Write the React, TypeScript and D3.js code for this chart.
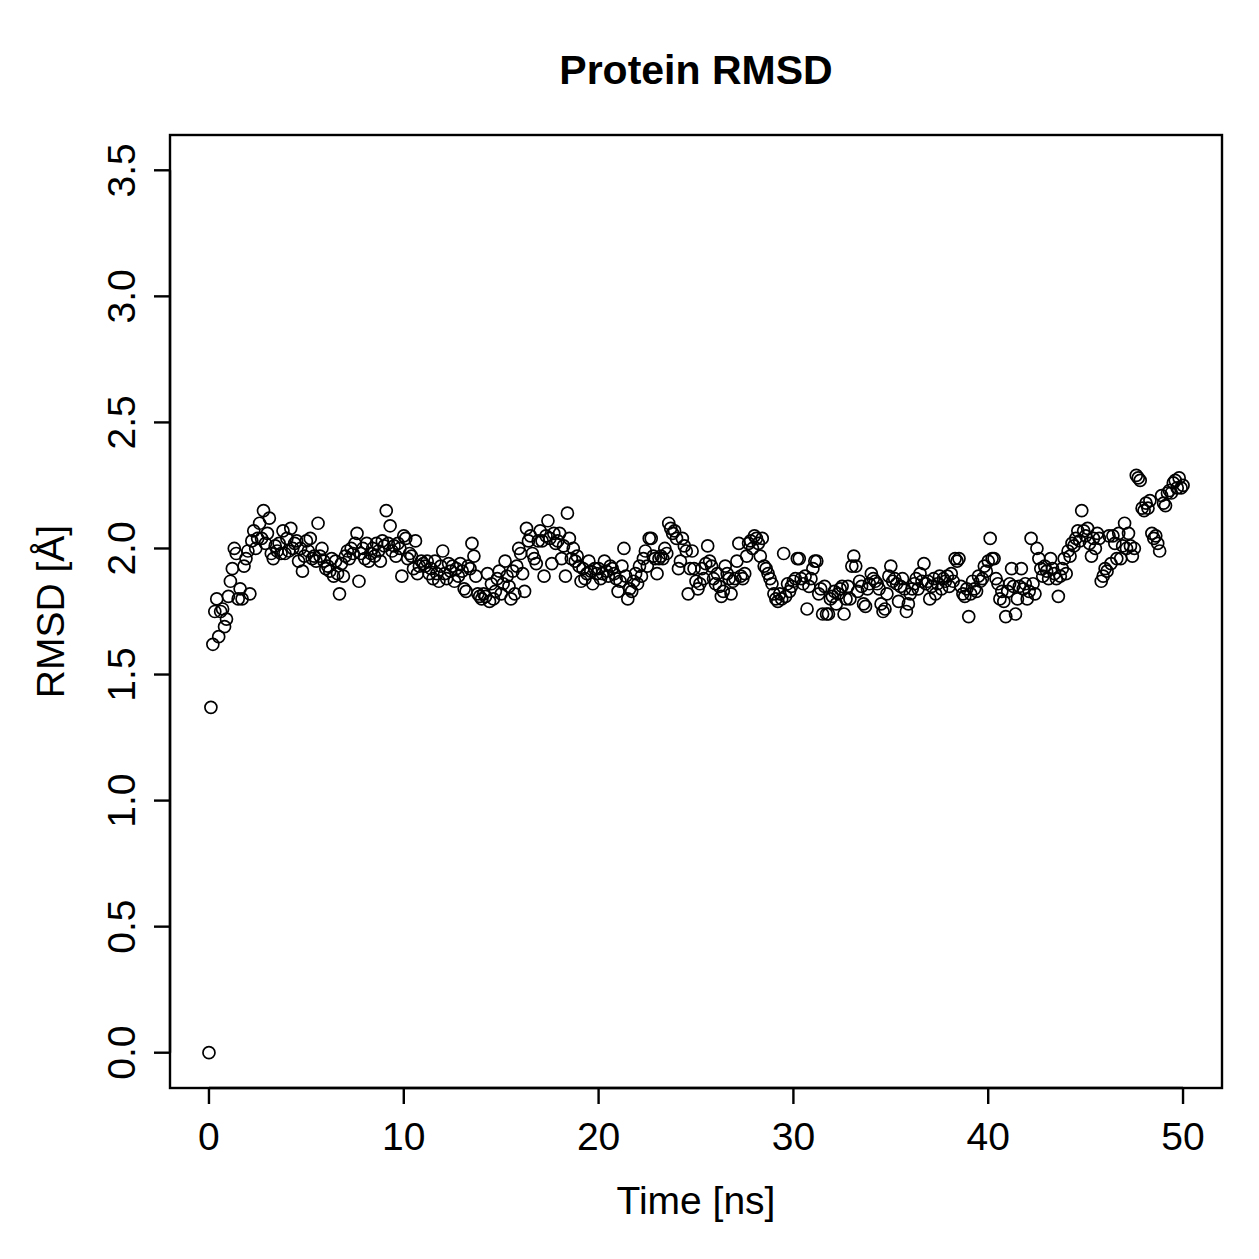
import React from "react";
import * as d3 from "d3";

// Protein backbone RMSD sampled every 0.1 ns over a 50 ns trajectory
const TIME_STEP = 0.1;
const rmsd: number[] = [
  0.00, 1.37, 1.62, 1.75, 1.80, 1.65, 1.75, 1.76, 1.69, 1.72,
  1.81, 1.87, 1.92, 2.00, 1.98, 1.80, 1.84, 1.80, 1.93, 1.96,
  1.99, 1.82, 2.03, 2.07, 2.00, 2.04, 2.10, 2.04, 2.15, 2.02,
  2.06, 2.12, 1.98, 1.96, 2.01, 1.99, 2.02, 1.98, 2.07, 1.98,
  2.04, 1.99, 2.08, 2.00, 2.02, 2.03, 1.95, 2.00, 1.91, 1.97,
  2.03, 1.99, 2.04, 1.96, 1.97, 1.95, 2.10, 1.97, 2.00, 1.95,
  1.92, 1.93, 1.91, 1.96, 1.89, 1.95, 1.90, 1.82, 1.94, 1.89,
  1.97, 1.99, 1.96, 2.00, 1.98, 2.02, 2.06, 1.87, 1.98, 2.00,
  1.96, 2.02, 1.95, 1.98, 2.00, 1.97, 2.02, 1.99, 1.95, 2.03,
  2.01, 2.15, 2.02, 2.09, 1.99, 2.01, 1.97, 2.02, 2.00, 1.89,
  2.05, 2.04, 1.96, 1.98, 1.97, 1.92, 2.03, 1.90, 1.93, 1.95,
  1.94, 1.93, 1.95, 1.90, 1.92, 1.88, 1.95, 1.90, 1.87, 1.93,
  1.99, 1.90, 1.88, 1.94, 1.91, 1.93, 1.87, 1.92, 1.89, 1.94,
  1.91, 1.84, 1.83, 1.93, 1.92, 2.02, 1.97, 1.89, 1.82, 1.81,
  1.80, 1.82, 1.81, 1.90, 1.79, 1.86, 1.80, 1.83, 1.88, 1.91,
  1.82, 1.86, 1.95, 1.89, 1.85, 1.80, 1.91, 1.82, 1.93, 2.00,
  1.98, 1.90, 1.83, 2.08, 2.03, 2.05, 1.98, 1.96, 1.94, 2.03,
  2.07, 2.03, 1.89, 2.05, 2.11, 2.04, 1.94, 2.06, 2.02, 2.03,
  2.06, 1.96, 2.01, 1.89, 2.14, 2.04, 1.96, 2.00, 1.95, 1.97,
  1.93, 1.87, 1.92, 1.88, 1.90, 1.95, 1.91, 1.86, 1.92, 1.90,
  1.92, 1.88, 1.90, 1.95, 1.91, 1.89, 1.93, 1.92, 1.90, 1.88,
  1.83, 1.87, 1.93, 2.00, 1.89, 1.80, 1.84, 1.83, 1.87, 1.90,
  1.86, 1.93, 1.89, 1.96, 1.99, 1.93, 2.04, 2.04, 1.97, 1.96,
  1.90, 1.96, 1.97, 1.96, 2.00, 1.98, 2.10, 2.08, 2.06, 2.07,
  2.04, 1.92, 1.95, 2.04, 2.01, 1.99, 1.82, 1.92, 1.99, 1.92,
  1.87, 1.84, 1.86, 1.92, 1.88, 1.94, 2.01, 1.95, 1.93, 1.88,
  1.86, 1.90, 1.85, 1.81, 1.83, 1.93, 1.90, 1.88, 1.82, 1.87,
  1.88, 1.95, 2.02, 1.89, 1.88, 1.90, 1.97, 2.02, 2.03, 2.00,
  2.05, 2.04, 2.02, 1.97, 2.04, 1.93, 1.92, 1.90, 1.88, 1.86,
  1.82, 1.80, 1.79, 1.82, 1.80, 1.98, 1.81, 1.86, 1.83, 1.85,
  1.87, 1.88, 1.96, 1.96, 1.88, 1.86, 1.89, 1.76, 1.85, 1.88,
  1.92, 1.95, 1.95, 1.82, 1.84, 1.74, 1.85, 1.74, 1.74, 1.80,
  1.81, 1.83, 1.78, 1.82, 1.84, 1.85, 1.74, 1.80, 1.85, 1.80,
  1.93, 1.97, 1.93, 1.83, 1.87, 1.85, 1.78, 1.77, 1.84, 1.86,
  1.90, 1.88, 1.87, 1.86, 1.84, 1.78, 1.75, 1.76, 1.82, 1.89,
  1.93, 1.87, 1.88, 1.86, 1.79, 1.85, 1.88, 1.84, 1.75, 1.78,
  1.82, 1.84, 1.86, 1.88, 1.84, 1.90, 1.87, 1.94, 1.86, 1.87,
  1.80, 1.85, 1.88, 1.82, 1.86, 1.89, 1.84, 1.88, 1.87, 1.89,
  1.85, 1.90, 1.87, 1.96, 1.95, 1.96, 1.85, 1.82, 1.81, 1.84,
  1.73, 1.82, 1.87, 1.84, 1.83, 1.89, 1.87, 1.88, 1.93, 1.91,
  1.95, 2.04, 1.96, 1.96, 1.88, 1.86, 1.80, 1.83, 1.79, 1.73,
  1.83, 1.86, 1.92, 1.85, 1.74, 1.80, 1.85, 1.92, 1.84, 1.86,
  1.80, 1.83, 2.04, 1.86, 1.82, 2.00, 1.96, 1.92, 1.89, 1.93,
  1.91, 1.88, 1.96, 1.92, 1.90, 1.88, 1.81, 1.89, 1.92, 1.96,
  1.90, 1.99, 1.97, 2.02, 2.01, 2.04, 2.07, 2.03, 2.15, 2.07,
  2.05, 2.08, 2.02, 1.97, 2.04, 2.00, 2.06, 2.04, 1.87, 1.89,
  1.92, 1.91, 2.05, 1.94, 2.05, 2.02, 1.96, 2.06, 1.96, 2.01,
  2.10, 2.00, 2.06, 2.01, 1.97, 2.00, 2.29, 2.28, 2.27, 2.16,
  2.15, 2.18, 2.16, 2.19, 2.06, 2.04, 2.05, 2.02, 1.99, 2.21,
  2.18, 2.17, 2.22, 2.23, 2.22, 2.26, 2.27, 2.24, 2.28, 2.24,
  2.25,
];

const xTicks = [0, 10, 20, 30, 40, 50];
const yTicks = [0.0, 0.5, 1.0, 1.5, 2.0, 2.5, 3.0, 3.5];
const xDomain: [number, number] = [0, 50];
const yDomain: [number, number] = [0, 3.5];

const W = 1259;
const H = 1259;
const box = { left: 170, right: 1222, top: 135, bottom: 1088 };
const FONT = "'Liberation Sans', Arial, Helvetica, sans-serif";

export default function App() {
  // R-style 4% padding around the data range
  const xPad = (xDomain[1] - xDomain[0]) * 0.04;
  const yPad = (yDomain[1] - yDomain[0]) * 0.04;
  const x = d3
    .scaleLinear()
    .domain([xDomain[0] - xPad, xDomain[1] + xPad])
    .range([box.left, box.right]);
  const y = d3
    .scaleLinear()
    .domain([yDomain[0] - yPad, yDomain[1] + yPad])
    .range([box.bottom, box.top]);

  const points = rmsd.map((v, i) => ({ t: +(i * TIME_STEP).toFixed(1), v }));
  const lw = 2.4;
  const tickLen = 16;

  return (
    <svg
      width={W}
      height={H}
      viewBox={`0 0 ${W} ${H}`}
      style={{ position: "absolute", left: 0, top: 0, background: "#fff" }}
      fontFamily={FONT}
    >
      <rect x={0} y={0} width={W} height={H} fill="#fff" />

      <text x={(box.left + box.right) / 2} y={84} textAnchor="middle" fontSize={41} fontWeight="bold">
        Protein RMSD
      </text>

      {/* data points */}
      <g fill="none" stroke="#000" strokeWidth={1.7}>
        {points.map((p, i) => (
          <circle key={i} cx={x(p.t)} cy={y(p.v)} r={6} />
        ))}
      </g>

      {/* plot frame */}
      <rect
        x={box.left}
        y={box.top}
        width={box.right - box.left}
        height={box.bottom - box.top}
        fill="none"
        stroke="#000"
        strokeWidth={lw}
      />

      {/* x axis */}
      <g stroke="#000" strokeWidth={lw}>
        <line x1={x(xTicks[0])} x2={x(xTicks[xTicks.length - 1])} y1={box.bottom} y2={box.bottom} />
        {xTicks.map((t) => (
          <line key={t} x1={x(t)} x2={x(t)} y1={box.bottom} y2={box.bottom + tickLen} />
        ))}
      </g>
      {xTicks.map((t) => (
        <text key={t} x={x(t)} y={1150} textAnchor="middle" fontSize={39}>
          {t}
        </text>
      ))}

      {/* y axis */}
      <g stroke="#000" strokeWidth={lw}>
        <line x1={box.left} x2={box.left} y1={y(yTicks[0])} y2={y(yTicks[yTicks.length - 1])} />
        {yTicks.map((t) => (
          <line key={t} x1={box.left - tickLen} x2={box.left} y1={y(t)} y2={y(t)} />
        ))}
      </g>
      {yTicks.map((t) => (
        <text
          key={t}
          transform={`translate(135,${y(t)}) rotate(-90)`}
          textAnchor="middle"
          fontSize={39}
        >
          {t.toFixed(1)}
        </text>
      ))}

      <text x={(box.left + box.right) / 2} y={1214} textAnchor="middle" fontSize={39}>
        Time [ns]
      </text>
      <text
        transform={`translate(64,${(box.top + box.bottom) / 2}) rotate(-90)`}
        textAnchor="middle"
        fontSize={39}
      >
        RMSD [Å]
      </text>
    </svg>
  );
}
